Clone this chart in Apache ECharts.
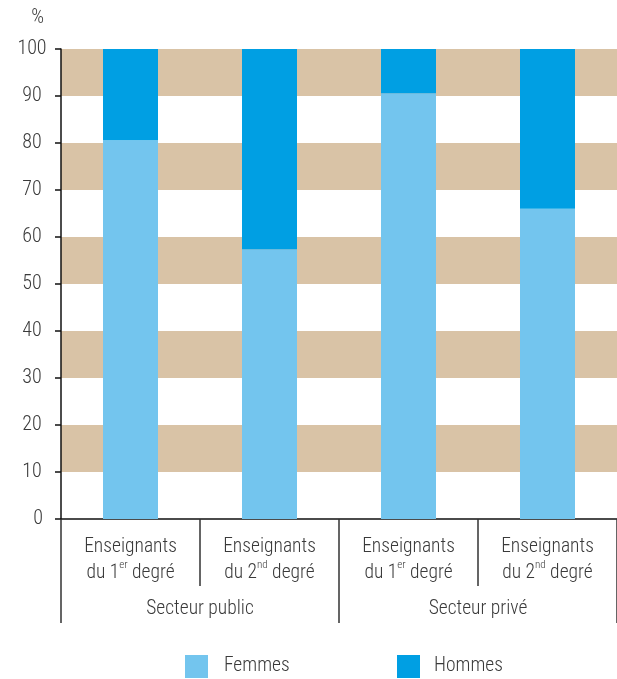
<!DOCTYPE html>
<html>
<head>
<meta charset="utf-8">
<script src="https://cdn.jsdelivr.net/npm/echarts@6/dist/echarts.min.js"></script>
<style>
  html, body { margin: 0; padding: 0; background: #fff; }
  #chart { width: 617px; height: 679px; }
</style>
</head>
<body>
<div id="chart"></div>
<script>
// categories (rich text labels) and sectors
const categories = [
  '{a|Enseignants}\n{a|du 1}{sup|er}{a| degré}',
  '{a|Enseignants}\n{a|du 2}{sup|nd}{a| degré}',
  '{a|Enseignants}\n{a|du 1}{sup|er}{a| degré}',
  '{a|Enseignants}\n{a|du 2}{sup|nd}{a| degré}'
];
const sectors = ['Secteur public', 'Secteur privé'];
const femmes = [80.6, 57.4, 90.6, 66.0];
const hommes = [19.4, 42.6, 9.4, 34.0];

const FONT = '"Roboto Condensed", "Liberation Sans Narrow", "DejaVu Sans Condensed", sans-serif';
const TXT = '#3a3a3a';
const W = 300;

const chart = echarts.init(document.getElementById('chart'));

const option = {
  animation: false,
  textStyle: { fontFamily: FONT, fontWeight: W },
  color: ['#73C5EE', '#009FE3'],
  grid: { left: 61, right: 0, top: 49, bottom: 160 },
  legend: [
    {
      data: ['Femmes'], left: 185, top: 655, padding: 0,
      itemWidth: 23, itemHeight: 23, itemGap: 0,
      icon: 'rect',
      textStyle: { color: TXT, fontSize: 19.5, fontFamily: FONT, fontWeight: W, padding: [4, 0, 0, 11] }
    },
    {
      data: ['Hommes'], left: 397, top: 655, padding: 0,
      itemWidth: 23, itemHeight: 23, itemGap: 0,
      icon: 'rect',
      textStyle: { color: TXT, fontSize: 19.5, fontFamily: FONT, fontWeight: W, padding: [4, 0, 0, 9] }
    }
  ],
  xAxis: [
    {
      type: 'category',
      data: categories,
      axisLine: { lineStyle: { color: '#111', width: 1.5 } },
      axisTick: { show: true, interval: 0, length: 67, lineStyle: { color: '#333', width: 1.5 } },
      axisLabel: {
        interval: 0, margin: 15, color: TXT,
        rich: {
          a: { fontSize: 19.5, lineHeight: 26, color: TXT, fontFamily: FONT, fontWeight: W },
          sup: { fontSize: 11, lineHeight: 16, verticalAlign: 'top', color: TXT, fontFamily: FONT, fontWeight: W }
        }
      }
    },
    {
      type: 'category',
      data: sectors,
      position: 'bottom',
      offset: 67,
      axisLine: { show: false },
      axisTick: { show: true, interval: 0, length: 37, lineStyle: { color: '#333', width: 1.5 } },
      axisLabel: { interval: 0, margin: 13, color: TXT, fontSize: 19.5, fontFamily: FONT, fontWeight: W }
    }
  ],
  yAxis: {
    type: 'value',
    min: 0, max: 100, interval: 10,
    name: '%',
    nameLocation: 'end',
    nameGap: 21,
    nameTextStyle: { color: TXT, fontSize: 20, fontWeight: W, align: 'right', padding: [0, 17, 0, 0], fontFamily: FONT },
    axisLine: { show: true, lineStyle: { color: '#111', width: 1.5 } },
    axisTick: { show: true, length: 6, lineStyle: { color: '#111', width: 1.5 } },
    axisLabel: {
      color: TXT, fontSize: 20, fontWeight: W, margin: 29, align: 'center', fontFamily: FONT,
      formatter: v => (v === 0 ? '{z|0}' : String(v)),
      rich: { z: { fontSize: 20, fontWeight: W, color: TXT, fontFamily: FONT, padding: [0, 0, 0, 12] } }
    },
    splitLine: { show: false },
    splitArea: { show: true, areaStyle: { color: ['#ffffff', '#D9C3A6'] } }
  },
  series: [
    { name: 'Femmes', type: 'bar', stack: 'total', barWidth: 55, data: femmes },
    { name: 'Hommes', type: 'bar', stack: 'total', barWidth: 55, data: hommes }
  ]
};

chart.setOption(option);
</script>
</body>
</html>
